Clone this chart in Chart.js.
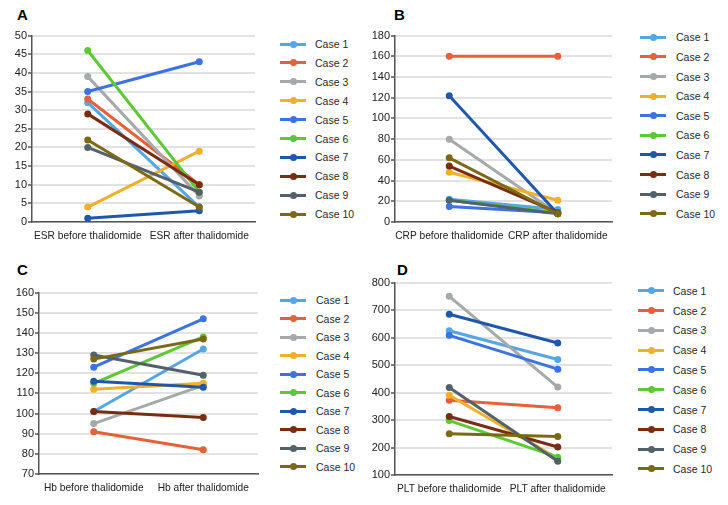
<!DOCTYPE html>
<html>
<head>
<meta charset="utf-8">
<script src="https://cdn.jsdelivr.net/npm/chart.js@4"></script>
<style>
    body { margin: 0; background: #fff; width: 728px; height: 505px; position: relative; overflow: hidden; font-family: "Liberation Sans", Arial, sans-serif; }
    canvas { position: absolute; }
    .tag { position: absolute; font: bold 15px/15px "Liberation Sans", Arial, sans-serif; color: #000; }
    .legend { position: absolute; }
    .item { position: absolute; font-size: 10.5px; color: #2a2a2a; white-space: nowrap; }
    .icon { position: absolute; height: 3px; }
    .dot { position: absolute; width: 7px; height: 7px; border-radius: 50%; }
</style>
</head>
<body>
<div class="tag" style="left:17px;top:7px">A</div>
<div class="tag" style="left:394px;top:7px">B</div>
<div class="tag" style="left:17px;top:262px">C</div>
<div class="tag" style="left:397px;top:262px">D</div>

<canvas id="chartA" width="262" height="220" style="left:0px;top:28px"></canvas>
<canvas id="chartB" width="255" height="220" style="left:365px;top:28px"></canvas>
<canvas id="chartC" width="265" height="215" style="left:0px;top:285px"></canvas>
<canvas id="chartD" width="255" height="226" style="left:365px;top:275px"></canvas>

<script>
// 病例名称和颜色
const cases = ['Case 1', 'Case 2', 'Case 3', 'Case 4', 'Case 5', 'Case 6', 'Case 7', 'Case 8', 'Case 9', 'Case 10'];
const caseColors = ['#55a6e4', '#e6603a', '#a6a9aa', '#f0b02c', '#3d72e4', '#5cc834', '#1f58aa', '#7a2c12', '#52616a', '#7b6914'];

// 各指标的横轴标签
const esrLabels = ['ESR before thalidomide', 'ESR after thalidomide'];
const crpLabels = ['CRP before thalidomide', 'CRP after thalidomide'];
const hbLabels = ['Hb before thalidomide', 'Hb after thalidomide'];
const pltLabels = ['PLT before thalidomide', 'PLT after thalidomide'];

// 治疗前后数值 [before, after]
const esrValues = [[32, 4], [33, 10], [39, 7], [4, 19], [35, 43], [46, 8], [1, 3], [29, 10], [20, 8], [22, 4]];
const crpValues = [[22, 12], [160, 160], [80, 8], [48, 21], [15, 9], [21, 9], [122, 8], [54, 9], [21, 8], [62, 8]];
const hbValues = [[101, 132], [91, 82], [95, 114], [112, 115], [123, 147], [115, 138], [116, 113], [101, 98], [129, 119], [127, 137]];
const pltValues = [[625, 520], [372, 345], [750, 420], [390, 160], [608, 485], [298, 165], [685, 580], [313, 202], [418, 150], [250, 240]];

// 纵轴范围
const esrAxis = { min: 0, max: 50, step: 5 };
const crpAxis = { min: 0, max: 180, step: 20 };
const hbAxis = { min: 70, max: 160, step: 10 };
const pltAxis = { min: 100, max: 800, step: 100 };

function makeChart(id, labels, values, axis, yWidth, padRight) {
    const ctx = document.getElementById(id).getContext('2d');
    return new Chart(ctx, {
        type: 'line',
        data: {
            labels: labels,
            datasets: values.map((v, i) => ({
                label: cases[i],
                data: v,
                borderColor: caseColors[i],
                backgroundColor: caseColors[i],
                pointBackgroundColor: caseColors[i],
                pointBorderColor: caseColors[i],
                borderWidth: 3,
                pointRadius: 3.5,
                pointBorderWidth: 0,
                order: 10 - i
            }))
        },
        options: {
            responsive: false,
            animation: false,
            layout: { padding: { top: 7, right: padRight, left: 0, bottom: 0 } },
            plugins: { legend: { display: false }, tooltip: { enabled: false } },
            scales: {
                x: {
                    offset: true,
                    grid: { display: false, drawTicks: false },
                    border: { display: true, color: '#555', width: 1.5 },
                    ticks: { color: '#222', padding: 8, maxRotation: 0, minRotation: 0, autoSkip: false,
                        font: { family: 'Liberation Sans', size: 10.2 } },
                    afterFit: s => { s.height = 26; s.paddingLeft = 0; s.paddingRight = 0; }
                },
                y: {
                    min: axis.min,
                    max: axis.max,
                    grid: { color: '#e2e2e2', lineWidth: 2, tickColor: '#555', tickLength: 4, tickWidth: 1.5 },
                    border: { display: true, color: '#555', width: 1.5 },
                    ticks: { stepSize: axis.step, color: '#222', padding: 1, font: { family: 'Liberation Sans', size: 11 } },
                    afterFit: s => { s.width = yWidth; }
                }
            }
        }
    });
}

function makeLegend(x, y, step, iconW, textX) {
    const box = document.createElement('div');
    box.className = 'legend';
    cases.forEach((name, i) => {
        const cy = y + i * step;
        const line = document.createElement('div');
        line.className = 'icon';
        line.style.cssText = `left:${x}px;top:${cy - 1.5}px;width:${iconW}px;background:${caseColors[i]}`;
        const dot = document.createElement('div');
        dot.className = 'dot';
        dot.style.cssText = `left:${x + iconW / 2 - 3.5}px;top:${cy - 3.5}px;background:${caseColors[i]}`;
        const txt = document.createElement('div');
        txt.className = 'item';
        txt.style.cssText = `left:${textX}px;top:${cy - 7}px;line-height:14px`;
        txt.textContent = name;
        box.appendChild(line);
        box.appendChild(dot);
        box.appendChild(txt);
    });
    document.body.appendChild(box);
}

makeChart('chartA', esrLabels, esrValues, esrAxis, 32, 7);
makeChart('chartB', crpLabels, crpValues, crpAxis, 30, 8);
makeChart('chartC', hbLabels, hbValues, hbAxis, 39, 7);
makeChart('chartD', pltLabels, pltValues, pltAxis, 30, 8);

makeLegend(280, 44, 18.9, 26, 315);
makeLegend(640, 37.3, 19.6, 26, 676);
makeLegend(280, 300, 18.5, 26, 316);
makeLegend(638, 290.7, 19.8, 26, 673);
</script>
</body>
</html>
